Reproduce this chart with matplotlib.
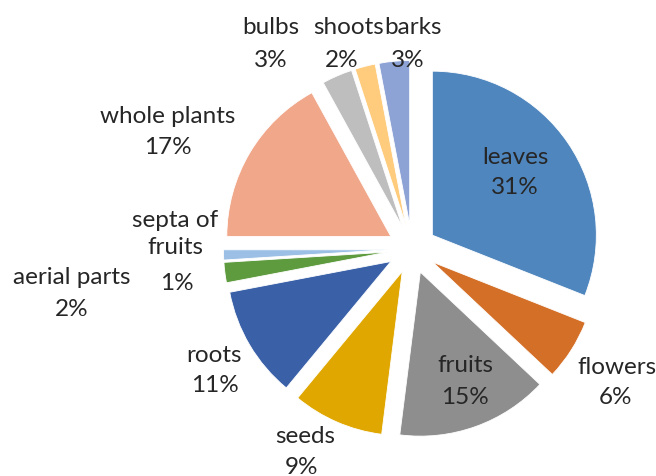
import matplotlib

matplotlib.use("Agg")
import matplotlib.pyplot as plt

# ---------- data ----------
parts = ["leaves", "flowers", "fruits", "seeds", "roots", "aerial parts",
         "septa of\nfruits", "whole plants", "bulbs", "shoots", "barks"]
shares = [31, 6, 15, 9, 11, 2, 1, 17, 3, 2, 3]
colors = ["#4F86BD", "#D46F28", "#8E8E8E", "#DFA700", "#3A61A8", "#5E9B3E",
          "#9CC0E5", "#F0A78A", "#BEBEBE", "#FFCB7C", "#8DA3D6"]

# label placement in pixels (name centre, percent centre)
name_px = [(515, 157), (617, 367), (465, 366), (305, 437), (214, 355), (72, 278),
           (175, 234), (168, 117), (271, 28), (349, 28), (413, 28)]
pct_px = [(515, 188), (616, 398), (465, 397), (301, 467), (215, 386), (72, 310),
          (177, 283), (168, 148), (271, 61), (342, 61), (408, 61)]

W, H = 656, 477
CX, CY, R = 412, 250, 164


def px(x, y):
    return (x - CX) / R, (CY - y) / R


plt.rcParams["font.family"] = ["Lato", "DejaVu Sans"]

fig = plt.figure(figsize=(W / 100, H / 100), dpi=100)
ax = fig.add_axes([0, 0, 1, 1])
ax.pie(
    shares,
    colors=colors,
    startangle=90,
    counterclock=False,
    explode=[0.15] * len(shares),
    wedgeprops=dict(linewidth=0.6, edgecolor="#ffffff"),
)
ax.set_xlim(-CX / R, (W - CX) / R)
ax.set_ylim((CY - H) / R, CY / R)
ax.set_aspect("auto")
ax.axis("off")

for name, val, npos, ppos in zip(parts, shares, name_px, pct_px):
    ax.text(*px(*npos), name, ha="center", va="center", fontsize=17.5,
            color="#262626", linespacing=1.4)
    ax.text(*px(*ppos), f"{val}%", ha="center", va="center", fontsize=17.5,
            color="#262626")

fig.savefig("out.png", dpi=100)
